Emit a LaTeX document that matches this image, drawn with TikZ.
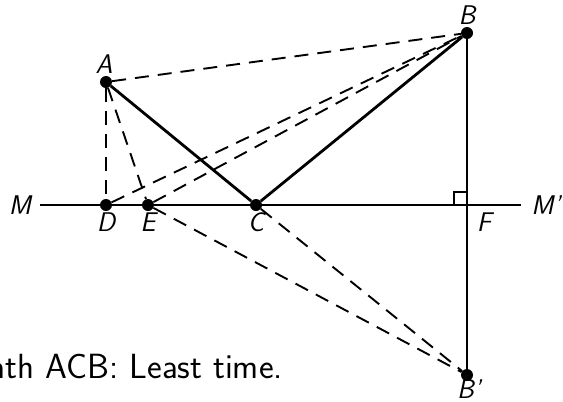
\documentclass[tikz,border=0pt]{standalone}
\begin{document}
\begin{tikzpicture}[x=1pt,y=-1pt,
  pt/.style={circle,fill=black,inner sep=0pt,minimum size=12pt},
  lbl/.style={font=\fontsize{27}{32}\selectfont\sffamily\itshape,inner sep=0pt},
  dsh/.style={line width=1.9pt,dash pattern=on 14pt off 9pt},
  path/.style={line width=2.8pt},
  thin/.style={line width=1.4pt}]
\useasboundingbox (0,0) rectangle (563,402);
\node[pt] (A) at (106,82) {};
\node[pt] (B) at (467,33) {};
\node[pt] (C) at (256,205) {};
\node[pt] (D) at (106,205) {};
\node[pt] (E) at (148,205) {};
\coordinate (F) at (467,205);
\node[pt] (Bp) at (467,375) {};
\coordinate (Ml) at (40,205);
\coordinate (Mr) at (521,205);
% lines
\draw[line width=1.8pt] (Ml) -- (Mr);
\draw[thin] (B) -- (Bp);
\draw[thin] (454,205) -- (454,192) -- (467,192);
\draw[dsh] (A) -- (B);
\draw[dsh] (A) -- (D);
\draw[dsh] (A) -- (E);
\draw[dsh] (D) -- (B);
\draw[dsh] (E) -- (B);
\draw[dsh] (E) -- (Bp);
\draw[dsh] (C) -- (Bp);
\draw[path] (A) -- (C) -- (B);
% labels
\node[lbl] (lA) at (104,64) {A};
\node[lbl] (lB) at (467,15) {B};
\node[lbl] (lBp) at (469,389) {B'};
\node[lbl] (lD) at (106,222) {D};
\node[lbl] (lE) at (148,222) {E};
\node[lbl] (lC) at (256,222) {C};
\node[lbl] (lF) at (484,222) {F};
\node[lbl] (lM) at (20,205) {M};
\node[lbl] (lMp) at (546,205) {M'};
\node[anchor=east,inner sep=0pt,font=\fontsize{35}{40}\selectfont\sffamily] (cap) at (283,366) {Path ACB: Least time.};
\end{tikzpicture}
\end{document}
